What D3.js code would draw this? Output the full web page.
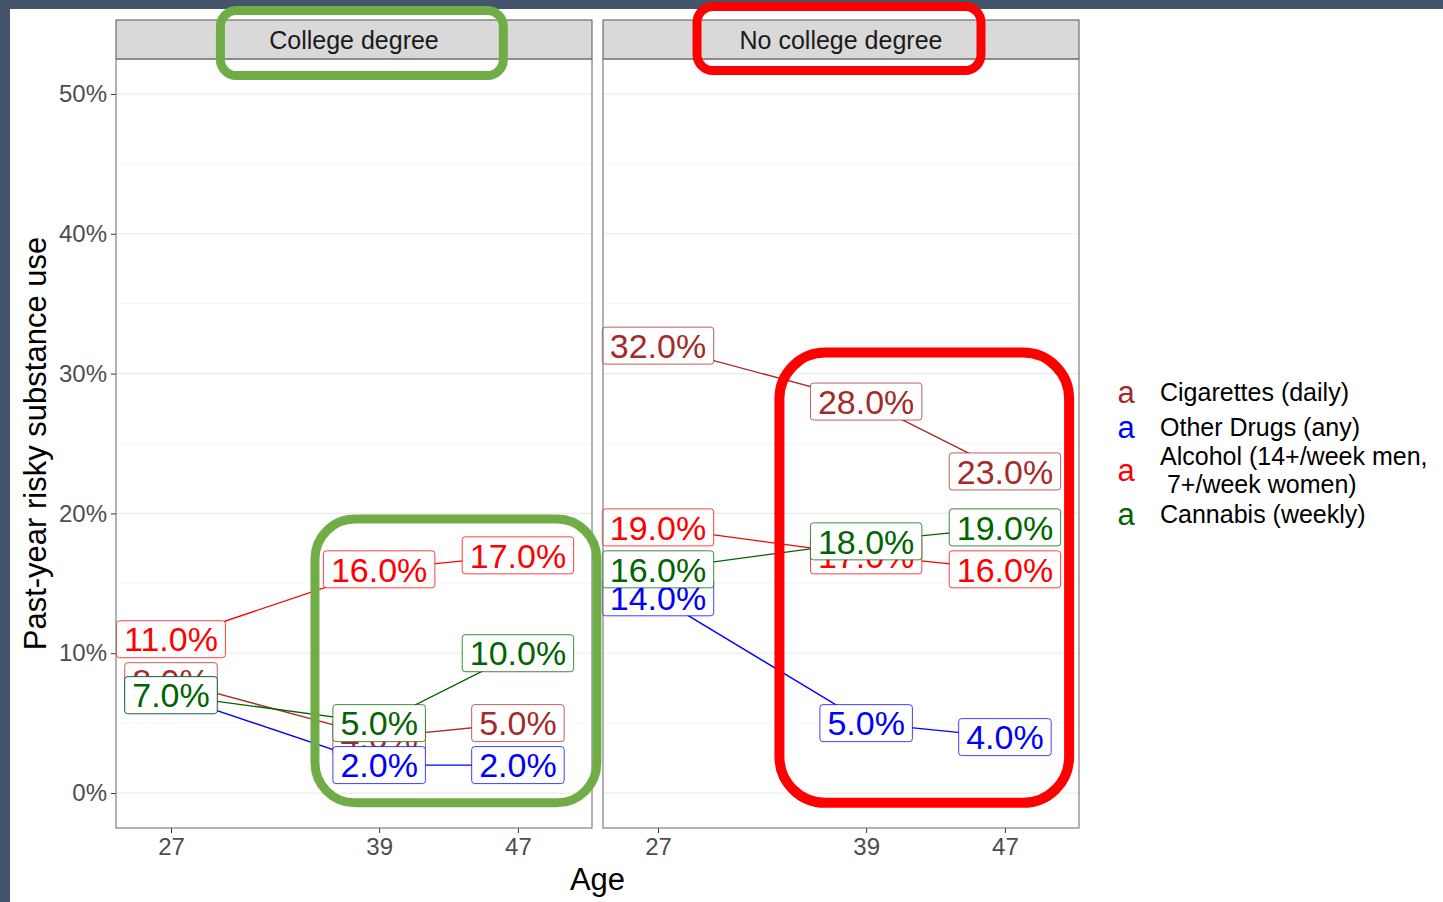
<!DOCTYPE html>
<html>
<head>
<meta charset="utf-8">
<script src="https://cdn.jsdelivr.net/npm/d3@7"></script>
<style>
  html, body { margin: 0; padding: 0; background: #fff; }
  svg { display: block; font-family: "Liberation Sans", Arial, sans-serif; }
</style>
</head>
<body>
<div id="chart"></div>
<script>
// data
const panels = ["College degree", "No college degree"];
const ages = [27, 39, 47];
const substances = ["Cigarettes (daily)", "Other Drugs (any)", "Alcohol (14+/week men,\n 7+/week women)", "Cannabis (weekly)"];
const colors = ["#A52A2A", "#0000FF", "#FF0000", "#006400"];
const collegeCig = [8, 4, 5];
const collegeDrugs = [7, 2, 2];
const collegeAlcohol = [11, 16, 17];
const collegeCannabis = [7, 5, 10];
const noCollegeCig = [32, 28, 23];
const noCollegeDrugs = [14, 5, 4];
const noCollegeAlcohol = [19, 17, 16];
const noCollegeCannabis = [16, 18, 19];
const yTicks = [0, 10, 20, 30, 40, 50];

const seriesByPanel = [
    [collegeCig, collegeDrugs, collegeAlcohol, collegeCannabis],
    [noCollegeCig, noCollegeDrugs, noCollegeAlcohol, noCollegeCannabis]
];

const W = 1443, H = 902;
const PANEL_W = 476, PANEL_GAP = 11;
const PANEL_TOP = 59, PANEL_BOTTOM = 828, STRIP_H = 39;
const PANEL_LEFT = 116;

const svg = d3.select("#chart").append("svg")
    .attr("width", W)
    .attr("height", H);

svg.append("rect").attr("width", W).attr("height", H).attr("fill", "#fff");
// slide frame
svg.append("rect").attr("width", W).attr("height", 9).attr("fill", "#44546A");
svg.append("rect").attr("width", 10).attr("height", H).attr("fill", "#44546A");

const y = d3.scaleLinear().domain([-2.5, 52.5]).range([PANEL_BOTTOM, PANEL_TOP]);
const x = d3.scaleLinear().domain([23.83, 51.27]).range([0, PANEL_W]);

// y axis
const yAxis = svg.append("g")
    .attr("transform", `translate(${PANEL_LEFT},0)`)
    .call(d3.axisLeft(y).tickValues(yTicks).tickFormat(d => d + "%").tickSize(5).tickPadding(4));
yAxis.select(".domain").remove();
yAxis.selectAll("line").attr("stroke", "#333");
yAxis.selectAll("text").attr("fill", "#4D4D4D").style("font-size", "24px")
    .style("font-family", "Liberation Sans, Arial, sans-serif");

svg.append("text")
    .attr("transform", `translate(46,${(PANEL_TOP + PANEL_BOTTOM) / 2}) rotate(-90)`)
    .attr("text-anchor", "middle")
    .style("font-size", "31px")
    .attr("fill", "#000")
    .text("Past-year risky substance use");

const fmt = d => d.toFixed(1) + "%";

panels.forEach((name, p) => {
    const x0 = PANEL_LEFT + p * (PANEL_W + PANEL_GAP);
    const g = svg.append("g").attr("transform", `translate(${x0},0)`);

    // grid
    d3.range(0, 55, 5).forEach(v => {
        if (v > 52.5) return;
        g.append("line")
            .attr("x1", 0).attr("x2", PANEL_W)
            .attr("y1", y(v)).attr("y2", y(v))
            .attr("stroke", v % 10 === 0 ? "#EBEBEB" : "#F4F4F4")
            .attr("stroke-width", v % 10 === 0 ? 1.2 : 0.8);
    });

    // strip
    g.append("rect")
        .attr("x", 0).attr("y", PANEL_TOP - STRIP_H)
        .attr("width", PANEL_W).attr("height", STRIP_H)
        .attr("fill", "#D9D9D9").attr("stroke", "#555").attr("stroke-width", 1);
    g.append("text")
        .attr("x", PANEL_W / 2).attr("y", PANEL_TOP - STRIP_H / 2)
        .attr("dy", "0.36em")
        .attr("text-anchor", "middle")
        .attr("fill", "#1A1A1A")
        .style("font-size", "25px")
        .text(name);

    // x axis
    const xAxis = g.append("g")
        .attr("transform", `translate(0,${PANEL_BOTTOM})`)
        .call(d3.axisBottom(x).tickValues(ages).tickSize(5).tickPadding(5));
    xAxis.select(".domain").remove();
    xAxis.selectAll("line").attr("stroke", "#333");
    xAxis.selectAll("text").attr("fill", "#4D4D4D").style("font-size", "24px")
        .style("font-family", "Liberation Sans, Arial, sans-serif");

    const line = d3.line().x((d, i) => x(ages[i])).y(d => y(d));
    const series = seriesByPanel[p];

    series.forEach((vals, s) => {
        g.append("path")
            .attr("d", line(vals))
            .attr("fill", "none")
            .attr("stroke", colors[s])
            .attr("stroke-width", 1.4);
    });

    // labels, drawn in legend order so later ones sit on top
    series.forEach((vals, s) => {
        vals.forEach((v, i) => {
            const lg = g.append("g").attr("transform", `translate(${x(ages[i])},${y(v)})`);
            const rect = lg.append("rect");
            const t = lg.append("text")
                .attr("text-anchor", "middle")
                .attr("dy", "0.36em")
                .attr("fill", colors[s])
                .style("font-size", "34px")
                .text(fmt(v));
            const w = t.node().getComputedTextLength() + 15;
            rect.attr("x", -w / 2).attr("y", -18.5)
                .attr("width", w).attr("height", 37)
                .attr("rx", 3)
                .attr("fill", "#fff")
                .attr("stroke", colors[s])
                .attr("stroke-opacity", 0.75)
                .attr("stroke-width", 1);
        });
    });

    // panel border
    g.append("rect")
        .attr("x", 0).attr("y", PANEL_TOP)
        .attr("width", PANEL_W).attr("height", PANEL_BOTTOM - PANEL_TOP)
        .attr("fill", "none").attr("stroke", "#7F7F7F").attr("stroke-width", 1.2);
});

svg.append("text")
    .attr("x", PANEL_LEFT + PANEL_W + PANEL_GAP / 2)
    .attr("y", 890)
    .attr("text-anchor", "middle")
    .style("font-size", "31px")
    .attr("fill", "#000")
    .text("Age");

// legend
const legendRows = [392, 427, 470, 514];
const legend = svg.append("g");
substances.forEach((name, i) => {
    legend.append("text")
        .attr("x", 1126).attr("y", legendRows[i])
        .attr("dy", "0.36em")
        .attr("text-anchor", "middle")
        .attr("fill", colors[i])
        .style("font-size", "31px")
        .text("a");
    const lines = name.split("\n");
    const t = legend.append("text")
        .attr("x", 1160)
        .attr("y", legendRows[i] - (lines.length - 1) * 14)
        .style("font-size", "25px")
        .attr("fill", "#000");
    lines.forEach((l, k) => {
        t.append("tspan")
            .attr("x", 1160)
            .attr("dy", k === 0 ? "0.36em" : "28px")
            .style("white-space", "pre")
            .text(l);
    });
});

// highlight boxes drawn over the chart
const px = (p, age) => PANEL_LEFT + p * (PANEL_W + PANEL_GAP) + x(age);
const highlights = [
    { x1: px(0, 29.85), x2: px(0, 46.16), y1: 10.5, y2: 75.5, r: 16, c: "#70AD47", w: 9 },
    { x1: px(0, 35.3), x2: px(0, 51.55), y1: y(19.6), y2: y(-0.7), r: 40, c: "#70AD47", w: 9 },
    { x1: px(1, 29.25), x2: px(1, 45.62), y1: 6.5, y2: 70.5, r: 16, c: "#FF0000", w: 9 },
    { x1: px(1, 34.0), x2: px(1, 50.7), y1: y(31.5), y2: y(-0.7), r: 46, c: "#FF0000", w: 10 }
];
highlights.forEach(h => {
    svg.append("rect")
        .attr("x", h.x1).attr("y", h.y1)
        .attr("width", h.x2 - h.x1).attr("height", h.y2 - h.y1)
        .attr("rx", h.r)
        .attr("fill", "none")
        .attr("stroke", h.c)
        .attr("stroke-width", h.w);
});
</script>
</body>
</html>
